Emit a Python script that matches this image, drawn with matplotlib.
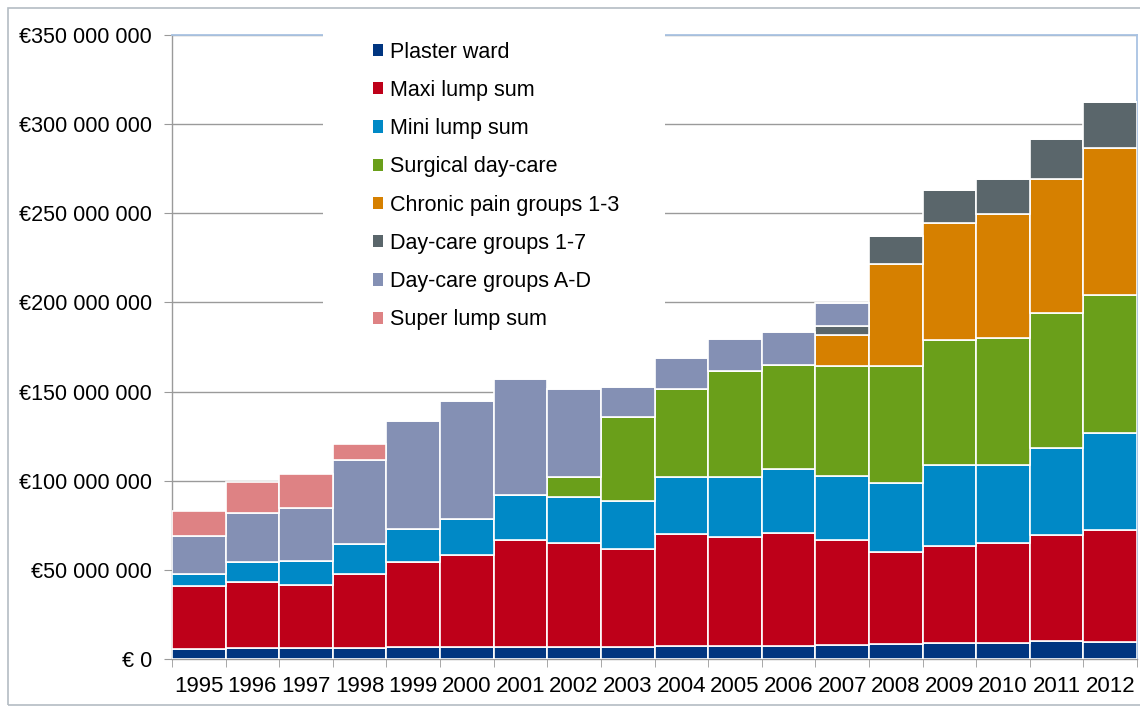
import matplotlib
matplotlib.use("Agg")
import matplotlib.pyplot as plt
import numpy as np
from matplotlib.patches import Rectangle, Patch

plt.rcParams['font.family'] = ['Liberation Sans', 'DejaVu Sans']

years = ['1995', '1996', '1997', '1998', '1999', '2000', '2001', '2002', '2003',
         '2004', '2005', '2006', '2007', '2008', '2009', '2010', '2011', '2012']

# Annual amounts per category, in millions of euros
plaster_ward = [5.4, 6.2, 6.2, 6.2, 6.5, 6.5, 6.9, 6.9, 6.9, 7.5, 7.5, 7.5, 7.8, 8.2, 8.9, 8.9, 9.9, 9.5]
maxi_lump = [35.7, 37.2, 35.1, 41.7, 47.7, 51.8, 59.7, 58.2, 54.6, 62.6, 60.9, 63.2, 59.1, 51.7, 54.4, 55.9, 59.7, 63.1]
mini_lump = [6.8, 10.8, 13.5, 16.4, 18.7, 20.2, 25.4, 25.8, 27.3, 32.2, 33.9, 36.0, 35.8, 39.0, 45.3, 43.8, 48.5, 54.0]
surgical_daycare = [0, 0, 0, 0, 0, 0, 0, 11.4, 47.1, 49.0, 59.1, 58.0, 61.6, 65.4, 70.5, 71.4, 75.8, 77.8]
chronic_pain = [0, 0, 0, 0, 0, 0, 0, 0, 0, 0, 0, 0, 17.6, 57.2, 65.4, 69.4, 75.5, 82.3]
daycare_1_7 = [0, 0, 0, 0, 0, 0, 0, 0, 0, 0, 0, 0, 4.6, 15.6, 18.6, 20.0, 22.4, 25.5]
daycare_a_d = [21.3, 27.7, 29.9, 47.1, 60.8, 66.0, 64.9, 49.0, 16.5, 17.7, 18.2, 18.9, 13.3, 0, 0, 0, 0, 0]
super_lump = [13.6, 17.4, 18.9, 9.0, 0, 0, 0, 0, 0, 0, 0, 0, 0, 0, 0, 0, 0, 0]

series_names = ['Plaster ward', 'Maxi lump sum', 'Mini lump sum', 'Surgical day-care',
                'Chronic pain groups 1-3', 'Day-care groups 1-7', 'Day-care groups A-D',
                'Super lump sum']
series_values = [plaster_ward, maxi_lump, mini_lump, surgical_daycare,
                 chronic_pain, daycare_1_7, daycare_a_d, super_lump]
series_colors = ['#003580', '#BE0019', '#0089C6', '#6A9F1A',
                 '#D68000', '#5A666B', '#8490B4', '#DE8284']

y_ticks = [0, 50, 100, 150, 200, 250, 300, 350]
y_tick_labels = ['€ 0', '€50 000 000', '€100 000 000', '€150 000 000', '€200 000 000',
                 '€250 000 000', '€300 000 000', '€350 000 000']

fig = plt.figure(figsize=(11.4, 7.09), dpi=100)
ax = fig.add_axes([172 / 1140, 1 - 659 / 709, (1137 - 172) / 1140, (659 - 35) / 709])

x = np.arange(len(years))
bottom = np.zeros(len(years))
for name, vals, col in zip(series_names, series_values, series_colors):
    vals = np.array(vals, dtype=float)
    ax.bar(x, vals, width=1.0, bottom=bottom, color=col, edgecolor='white',
           linewidth=1.2, zorder=3, label=name)
    bottom += vals

ax.set_xlim(-0.5, len(years) - 0.5)
ax.set_ylim(0, 350)

ax.set_yticks(y_ticks)
ax.set_yticklabels(y_tick_labels)
ax.set_xticks(x)
ax.set_xticklabels(years)
ax.set_xticks(np.arange(len(years) + 1) - 0.5, minor=True)

grid_col = '#9a9a9a'
ax.grid(axis='y', color=grid_col, linewidth=1, zorder=0)
ax.set_axisbelow(True)

ax.tick_params(axis='y', length=6, color=grid_col, pad=8.5, labelsize=15.5, labelcolor='black')
ax.tick_params(axis='x', which='major', length=0, pad=12, labelsize=16, labelcolor='black')
ax.tick_params(axis='x', which='minor', length=6, color=grid_col)

for side in ['left', 'bottom']:
    ax.spines[side].set_color(grid_col)
    ax.spines[side].set_linewidth(1)
for side in ['top', 'right']:
    ax.spines[side].set_color('#a9c3e3')
    ax.spines[side].set_linewidth(1.3)

# White backdrop behind the legend
ax.add_patch(Rectangle((2.31, 179), 8.69 - 2.31, 175, facecolor='white',
                       edgecolor='none', zorder=2.7, clip_on=False))

handles = [Patch(facecolor=c, edgecolor='none') for c in series_colors]
ax.legend(handles, series_names, loc='upper left', bbox_to_anchor=(0.199, 1.003),
          frameon=False, fontsize=15.5, handlelength=0.5, handleheight=0.5,
          handletextpad=0.3, labelspacing=0.8, borderaxespad=0)

# Light border around the chart area
fig.patches.append(Rectangle((8 / 1140, 4 / 709), 1.0, 1 - 12 / 709,
                             transform=fig.transFigure, facecolor='none',
                             edgecolor='#b4bcc4', linewidth=1.2))

fig.savefig('out.png', dpi=100)
